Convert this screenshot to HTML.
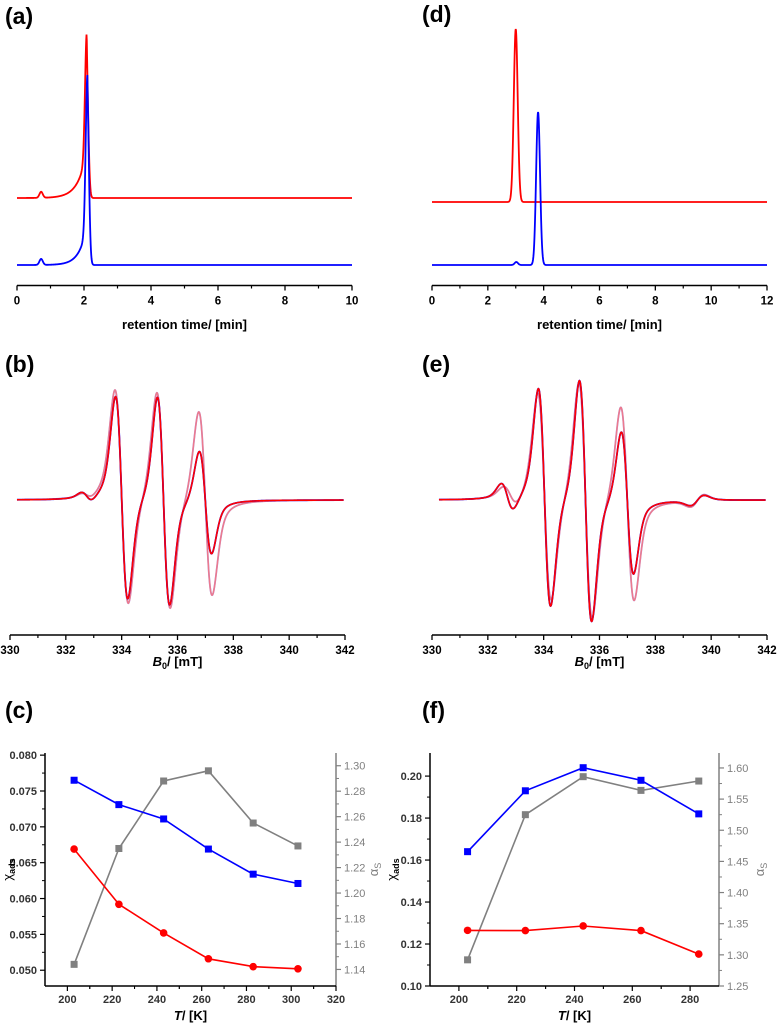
<!DOCTYPE html>
<html><head><meta charset="utf-8"><style>
html,body{margin:0;padding:0;background:#fff;}
svg{display:block;font-family:"Liberation Sans",Arial,sans-serif;}
</style></head><body>
<svg id="fig" width="778" height="1024" viewBox="0 0 778 1024">
<g id="root"></g>
</svg>
<script>
// ---- Panel (a)/(d) chromatogram peak data: [center min, height px, sigma min, frontTau min, frontHeight px]
const aRedPeaks = [[2.08, 118, 0.05, 0.25, 47],[0.72, 6, 0.05, 0, 0]];
const aBluePeaks = [[2.1, 148, 0.05, 0.22, 42],[0.72, 6, 0.05, 0, 0]];
const dRedPeaks = [[3.0, 173, 0.07, 0, 0]];
const dBluePeaks = [[3.8, 153, 0.07, 0, 0],[3.02, 3, 0.06, 0, 0]];
const aTicks = [0,2,4,6,8,10];
const dTicks = [0,2,4,6,8,10,12];
// ---- Panel (b)/(e) EPR lines: [center mT, amplitude, width mT]
const bDark = [[334.0,1.02,0.22],[335.5,1.05,0.22],[337.0,0.52,0.22],[332.75,0.05,0.2]];
const bLight = [[334.0,1.08,0.24],[335.5,1.1,0.24],[337.0,0.93,0.24],[332.75,0.03,0.2]];
const eDark = [[334.03,1.1,0.22],[335.5,1.22,0.22],[337.0,0.72,0.22],[332.7,0.14,0.22],[339.5,-0.05,0.25]];
const eLight = [[334.03,1.05,0.24],[335.5,1.2,0.24],[337.0,0.98,0.24],[332.8,0.1,0.25],[339.5,-0.06,0.25]];
const epTicks = [330,332,334,336,338,340,342];
// ---- Panel (c)
const cT = [203,223,243,263,283,303];
const cBlue = [0.0765,0.0731,0.0711,0.0669,0.0634,0.0621];
const cRed = [0.0669,0.0592,0.0552,0.0516,0.0505,0.0502];
const cGray = [1.144,1.235,1.288,1.296,1.255,1.237];
const cXTicks = [200,220,240,260,280,300,320];
const cYTicks = [0.050,0.055,0.060,0.065,0.070,0.075,0.080];
const cY2Ticks = [1.14,1.16,1.18,1.20,1.22,1.24,1.26,1.28,1.30];
// ---- Panel (f)
const fT = [203,223,243,263,283];
const fBlue = [0.164,0.193,0.204,0.198,0.182];
const fRed = [0.1265,0.1264,0.1286,0.1264,0.1152];
const fGray = [1.292,1.525,1.586,1.564,1.579];
const fXTicks = [200,220,240,260,280];
const fYTicks = [0.10,0.12,0.14,0.16,0.18,0.20];
const fY2Ticks = [1.25,1.30,1.35,1.40,1.45,1.50,1.55,1.60];

const NS="http://www.w3.org/2000/svg";
const root=document.getElementById('root');
function el(tag,attrs,parent){const e=document.createElementNS(NS,tag);for(const k in attrs)e.setAttribute(k,attrs[k]);(parent||root).appendChild(e);return e;}
function txt(s,x,y,size,opts,parent){const t=el('text',Object.assign({x:x,y:y,'font-size':size},opts||{}),parent);t.textContent=s;return t;}

function panelLabel(s,x,y){const t=txt(s,x,y,23,{'font-weight':'bold'});

}

function bottomAxis(g,sx,ticks,y,x0,x1,minor,labelSize){
  el('line',{x1:x0,x2:x1,y1:y,y2:y,stroke:'#000','stroke-width':1.5},g);
  ticks.forEach((v,i)=>{const x=sx(v);el('line',{x1:x,x2:x,y1:y,y2:y+5,stroke:'#000','stroke-width':1.3},g);
    const t=txt(String(v),x,y+19,labelSize||11.5,{'text-anchor':'middle','font-weight':'bold'},g);
    
    if(minor&&i<ticks.length-1){const xm=sx((v+ticks[i+1])/2);el('line',{x1:xm,x2:xm,y1:y,y2:y+3,stroke:'#000','stroke-width':1.2},g);}});
}

// ---------- Chromatograms ----------
function chromo(peaks,t,base){let v=0;for(const p of peaks){const [c,h,s,tau,fh]=p;v+=h*Math.exp(-0.5*((t-c)/s)**2);
 if(tau>0&&t<c){v+=fh*Math.exp(-(c-t)/tau);} if(tau>0&&t>=c){v+=fh*Math.exp(-(t-c)/0.02);} }return base-v;}
function chromPanel(name,x0,x1,xmax,ticks,series){
  const g=el('g',{});
  const sx=v=>x0+v*(x1-x0)/xmax;
  series.forEach(s=>{let d='';const N=1200;for(let i=0;i<=N;i++){const t=xmax*i/N;const y=chromo(s.peaks,t,s.base);d+=(i?'L':'M')+sx(t).toFixed(2)+','+y.toFixed(2);}
    const p=el('path',{d:d,fill:'none',stroke:s.color,'stroke-width':1.8},g);
    });
  bottomAxis(g,sx,ticks,285.5,x0,x1,true,11.5);
  const t=txt('retention time/ [min]',(x0+x1)/2,329,13,{'text-anchor':'middle','font-weight':'bold'},g);
  
}
chromPanel('chromatogram-a',17,352,10,aTicks,[{peaks:aRedPeaks,base:198,color:'#ff0000',name:'red-trace'},{peaks:aBluePeaks,base:265,color:'#0000ff',name:'blue-trace'}]);
chromPanel('chromatogram-d',432,767,12,dTicks,[{peaks:dRedPeaks,base:202,color:'#ff0000',name:'red-trace'},{peaks:dBluePeaks,base:265,color:'#0000ff',name:'blue-trace'}]);

// ---------- EPR ----------
function epr(lines,B){let v=0;for(const [c,a,w] of lines){const u=(B-c)/w;
  const gd=-u*Math.exp(0.5-u*u/2);const L=w*Math.sqrt(3);const ul=(B-c)/L;const ld=3.079*(-ul)/((1+ul*ul)**2);
  v+=a*(0.55*gd+0.45*ld);}return v;}
function eprPanel(name,x0,x1,series){
  const g=el('g',{});
  const sx=v=>x0+(v-330)*(x1-x0)/12;
  series.forEach(s=>{let d='';const N=1200;for(let i=0;i<=N;i++){const B=330.25+11.7*i/N;const y=500-epr(s.lines,B)*100;d+=(i?'L':'M')+sx(B).toFixed(2)+','+y.toFixed(2);}
    const p=el('path',{d:d,fill:'none',stroke:s.color,'stroke-width':s.w,opacity:s.op},g);
    });
  bottomAxis(g,sx,epTicks,635,x0,x1,true,11.5);
  const t=el('text',{x:(x0+x1)/2,y:666,'font-size':13,'text-anchor':'middle','font-weight':'bold'},g);
  
  const t1=el('tspan',{'font-style':'italic'},t);t1.textContent='B';
  const t2=el('tspan',{'font-size':9,dy:3},t);t2.textContent='0';
  const t3=el('tspan',{dy:-3},t);t3.textContent='/ [mT]';
}
eprPanel('epr-b',10,345,[{lines:bLight,color:'#8888ff',w:1.8,op:0.8,name:'light-blue-spectrum'},{lines:bLight,color:'#ff7070',w:1.6,op:0.8,name:'light-red-spectrum'},{lines:bDark,color:'#0000ff',w:1.8,op:1,name:'blue-spectrum'},{lines:bDark,color:'#ff0000',w:1.6,op:1,name:'red-spectrum'}]);
eprPanel('epr-e',432,767,[{lines:eLight,color:'#8888ff',w:1.8,op:0.8,name:'light-blue-spectrum'},{lines:eLight,color:'#ff7070',w:1.6,op:0.8,name:'light-red-spectrum'},{lines:eDark,color:'#0000ff',w:1.8,op:1,name:'blue-spectrum'},{lines:eDark,color:'#ff0000',w:1.6,op:1,name:'red-spectrum'}]);

// ---------- Line charts ----------
function scatterPanel(name,cfg){
  const g=el('g',{});
  const {x0,x1,yTop,yBot,xmin,xmax,ymin,ymax,y2min,y2max}=cfg;
  const sx=v=>x0+(v-xmin)*(x1-x0)/(xmax-xmin);
  const sy=v=>yBot-(v-ymin)*(yBot-yTop)/(ymax-ymin);
  const sy2=v=>yBot-(v-y2min)*(yBot-yTop)/(y2max-y2min);
  el('line',{x1:x0,x2:x0,y1:yTop,y2:yBot,stroke:'#000','stroke-width':1.5},g);
  cfg.yTicks.forEach((v,i)=>{const y=sy(v);el('line',{x1:x0-5,x2:x0,y1:y,y2:y,stroke:'#000','stroke-width':1.2},g);
    const t=txt(v.toFixed(cfg.yDec),x0-8,y+4,11,{'text-anchor':'end','font-weight':'bold',fill:'#333'},g);
    
    if(i<cfg.yTicks.length-1){const ym=sy((v+cfg.yTicks[i+1])/2);el('line',{x1:x0-3,x2:x0,y1:ym,y2:ym,stroke:'#000','stroke-width':1},g);}});
  el('line',{x1:x1,x2:x1,y1:yTop,y2:yBot,stroke:'#808080','stroke-width':1.5},g);
  cfg.y2Ticks.forEach((v,i)=>{const y=sy2(v);el('line',{x1:x1,x2:x1+5,y1:y,y2:y,stroke:'#808080','stroke-width':1.2},g);
    const t=txt(v.toFixed(2),x1+8,y+4,11,{fill:'#808080'},g);
    
    if(i<cfg.y2Ticks.length-1){const ym=sy2((v+cfg.y2Ticks[i+1])/2);el('line',{x1:x1,x2:x1+3,y1:ym,y2:ym,stroke:'#808080','stroke-width':1},g);}});
  el('line',{x1:x0,x2:x1,y1:yBot,y2:yBot,stroke:'#000','stroke-width':1.5},g);
  cfg.xTicks.forEach((v,i)=>{const x=sx(v);el('line',{x1:x,x2:x,y1:yBot,y2:yBot+5,stroke:'#000','stroke-width':1.2},g);
    const t=txt(String(v),x,yBot+17,11,{'text-anchor':'middle','font-weight':'bold',fill:'#333'},g);
    
    const xm=sx(v+10);if(xm<x1)el('line',{x1:xm,x2:xm,y1:yBot,y2:yBot+3,stroke:'#000','stroke-width':1},g);
    const xl=sx(v-10);if(xl>x0)el('line',{x1:xl,x2:xl,y1:yBot,y2:yBot+3,stroke:'#000','stroke-width':1},g);});
  const xt=el('text',{x:(x0+x1)/2,y:yBot+34,'font-size':13,'text-anchor':'middle','font-weight':'bold'},g);
  
  const a=el('tspan',{'font-style':'italic'},xt);a.textContent='T';const b=el('tspan',{},xt);b.textContent='/ [K]';
  const yt=el('text',{x:0,y:0,'font-size':13,'text-anchor':'middle',transform:`translate(${cfg.yTitleX},${(yTop+yBot)/2}) rotate(-90)`},g);
  
  const c1=el('tspan',{},yt);c1.textContent='χ';const c2=el('tspan',{'font-size':9,dy:3,'font-weight':'bold'},yt);c2.textContent='ads';
  const y2t=el('text',{x:0,y:0,'font-size':13,'text-anchor':'middle',fill:'#808080',transform:`translate(${cfg.y2TitleX},${(yTop+yBot)/2}) rotate(-90)`},g);
  
  const d1=el('tspan',{},y2t);d1.textContent='α';const d2=el('tspan',{'font-size':9,dy:3},y2t);d2.textContent='S';
  const series=[{xs:cfg.T,ys:cfg.gray,f:sy2,color:'#808080',m:'sq',name:'alpha-s-series'},
                {xs:cfg.T,ys:cfg.blue,f:sy,color:'#0000ff',m:'sq',name:'blue-chi-series'},
                {xs:cfg.T,ys:cfg.red,f:sy,color:'#ff0000',m:'ci',name:'red-chi-series'}];
  series.forEach(s=>{const sg=el('g',{},g);
    const pts=s.xs.map((x,i)=>sx(x).toFixed(1)+','+s.f(s.ys[i]).toFixed(1)).join(' ');
    el('polyline',{points:pts,fill:'none',stroke:s.color,'stroke-width':1.6},sg);
    s.xs.forEach((x,i)=>{const px=sx(x),py=s.f(s.ys[i]);let m;
      if(s.m==='sq'){m=el('rect',{x:px-3.5,y:py-3.5,width:7,height:7,fill:s.color},sg);}else{m=el('circle',{cx:px,cy:py,r:3.8,fill:s.color},sg);}
      });});
}
scatterPanel('chart-c',{x0:45,x1:336,yTop:753,yBot:986,xmin:190,xmax:320,ymin:0.0478,ymax:0.0803,y2min:1.127,y2max:1.31,
  xTicks:cXTicks,yTicks:cYTicks,y2Ticks:cY2Ticks,yDec:3,T:cT,blue:cBlue,red:cRed,gray:cGray,yTitleX:12,y2TitleX:378});
scatterPanel('chart-f',{x0:430,x1:719,yTop:753,yBot:986,xmin:190,xmax:290,ymin:0.10,ymax:0.211,y2min:1.25,y2max:1.624,
  xTicks:fXTicks,yTicks:fYTicks,y2Ticks:fY2Ticks,yDec:2,T:fT,blue:fBlue,red:fRed,gray:fGray,yTitleX:396,y2TitleX:764});

panelLabel('(a)',5,24);
panelLabel('(d)',422,22);
panelLabel('(b)',5,372);
panelLabel('(e)',422,372);
panelLabel('(c)',5,718);
panelLabel('(f)',422,718);
</script>
</body></html>
